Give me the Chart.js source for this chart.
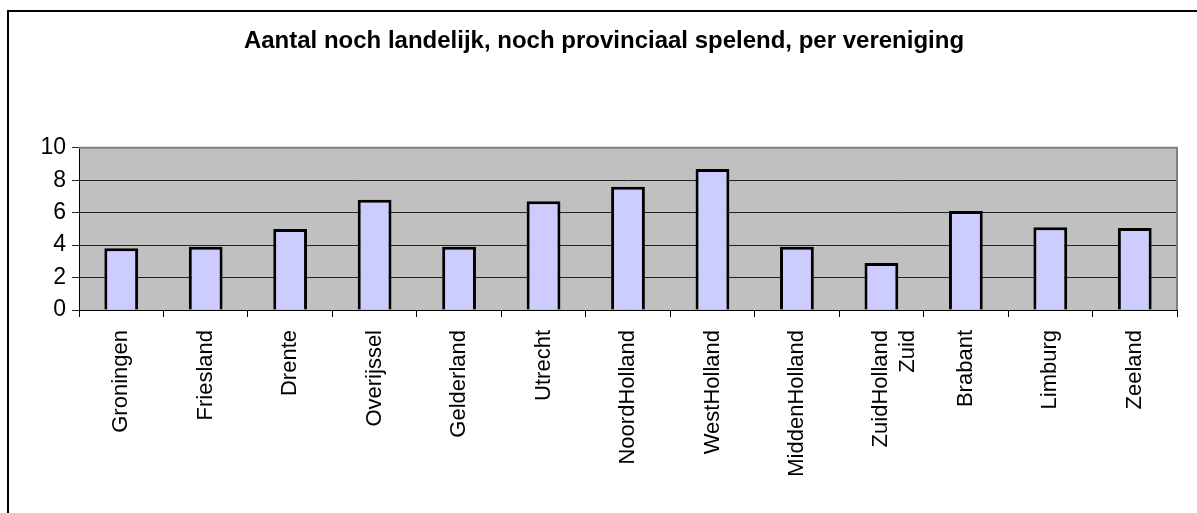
<!DOCTYPE html>
<html>
<head>
<meta charset="utf-8">
<script src="https://cdn.jsdelivr.net/npm/chart.js@4/dist/chart.umd.min.js"></script>
<style>
  html, body { margin: 0; padding: 0; background: #fff; }
  #wrap { width: 1197px; height: 513px; }
</style>
</head>
<body>
<div id="wrap"><canvas id="chart" width="1197" height="513"></canvas></div>
<script>
const categories = [
  "Groningen", "Friesland", "Drente", "Overijssel", "Gelderland", "Utrecht",
  "NoordHolland", "WestHolland", "MiddenHolland", ["ZuidHolland", "Zuid"],
  "Brabant", "Limburg", "Zeeland"
];
const values = [3.8, 3.9, 5.0, 6.8, 3.9, 6.7, 7.6, 8.7, 3.9, 2.9, 6.1, 5.1, 5.05];
const yTicks = [0, 2, 4, 6, 8, 10];
const titleText = "Aantal noch landelijk, noch provinciaal spelend, per vereniging";

const fontFamily = "'Liberation Sans', Arial, sans-serif";

// grey plot background, grey top/right edge and the frame round the chart
const plotDecor = {
  id: "plotDecor",
  beforeDraw(chart) {
    const { ctx, chartArea: a } = chart;
    ctx.save();
    ctx.fillStyle = "#C0C0C0";
    ctx.fillRect(a.left, a.top, a.right - a.left, a.bottom - a.top);
    ctx.restore();
  },
  beforeDatasetsDraw(chart) {
    const { ctx, chartArea: a } = chart;
    ctx.save();
    ctx.strokeStyle = "#808080";
    ctx.lineWidth = 2;
    ctx.beginPath();
    ctx.moveTo(a.left, a.top);
    ctx.lineTo(a.right, a.top);
    ctx.lineTo(a.right, a.bottom);
    ctx.stroke();
    ctx.restore();
  },
  afterDraw(chart) {
    const ctx = chart.ctx;
    ctx.save();
    ctx.strokeStyle = "#000";
    ctx.lineWidth = 2;
    ctx.beginPath();
    ctx.moveTo(8, chart.height);
    ctx.lineTo(8, 11);
    ctx.lineTo(chart.width, 11);
    ctx.stroke();
    ctx.restore();
  }
};

new Chart(document.getElementById("chart"), {
  type: "bar",
  data: {
    labels: categories,
    datasets: [{
      data: values,
      backgroundColor: "#CCCCFF",
      borderColor: "#000000",
      borderWidth: 3,
      barPercentage: 0.4,
      categoryPercentage: 1
    }]
  },
  options: {
    responsive: false,
    animation: false,
    layout: { padding: { left: 31, right: 20, top: 0, bottom: 0 } },
    plugins: {
      legend: { display: false },
      tooltip: { enabled: false },
      title: {
        display: true,
        text: titleText,
        color: "#000",
        font: { family: fontFamily, size: 24, weight: "bold" },
        padding: { top: 27, bottom: 92 }
      }
    },
    scales: {
      x: {
        offset: true,
        grid: {
          offset: true,
          drawOnChartArea: false,
          drawTicks: true,
          tickLength: 7,
          color: "#000"
        },
        border: { color: "#000", width: 1 },
        ticks: {
          color: "#000",
          font: { family: fontFamily, size: 22 },
          minRotation: 90,
          maxRotation: 90,
          autoSkip: false,
          padding: 13
        },
        afterFit(scale) { scale.height = 203; }
      },
      y: {
        min: 0,
        max: 10,
        afterBuildTicks(scale) { scale.ticks = yTicks.map(v => ({ value: v })); },
        grid: {
          color: "#222",
          lineWidth: 1,
          tickLength: 7
        },
        border: { color: "#000", width: 1 },
        ticks: {
          color: "#000",
          font: { family: fontFamily, size: 23 },
          padding: 6
        },
        afterFit(scale) { scale.width = 48; }
      }
    }
  },
  plugins: [plotDecor]
});
</script>
</body>
</html>
